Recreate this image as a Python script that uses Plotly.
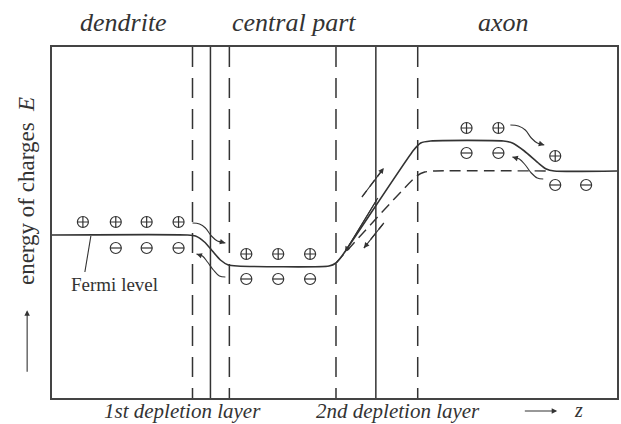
import plotly.graph_objects as go

# ---- data (z: position along neuron, E: energy of charges; arbitrary units) ----
z_range = [0, 567]
E_range = [0, 351]

boundary_solid_z = [159, 325]
boundary_dashed_z = [141, 178, 285, 367]

band_z = [0, 136, 144, 153, 161, 169, 177, 186, 278, 285, 291, 363, 370, 380,
          453, 462, 474, 488, 496, 504, 567]
band_E = [163, 163, 162, 156, 147, 138, 133, 132, 132, 135, 142, 248, 255, 257,
          257, 255, 247, 235, 229, 227, 227]

fermi_z = [285, 293, 366, 374, 383, 501]
fermi_E = [135, 144, 222, 226, 227, 227]

plus_z = [31, 64, 95, 127, 195, 227, 259, 416, 448, 505]
plus_E = [176, 176, 176, 176, 144, 144, 144, 270, 270, 242]
minus_z = [64, 95, 127, 195, 227, 259, 416, 448, 505, 536]
minus_E = [150, 150, 150, 119, 119, 119, 245, 245, 213, 213]

wavy_arrows = [
    ([141, 148, 154, 160, 166, 174], [175, 174, 170, 162, 157, 155]),
    ([174, 168, 162, 156, 151, 145], [121, 122, 128, 136, 142, 144]),
    ([460, 468, 475, 481, 487, 494], [273, 272, 268, 260, 255, 253]),
    ([493, 487, 481, 475, 469, 462], [219, 220, 225, 233, 239, 241]),
]
solid_arrow = ([327, 294], [200, 146])
dashed_arrows = [([311, 333], [201, 230]), ([333, 313], [175, 150])]

region_labels = ["dendrite", "central part", "axon"]
region_label_z = [72, 243, 453]
layer_labels = ["1st depletion layer", "2nd depletion layer"]
layer_label_z = [131, 347]

INK = "#333333"
SERIF = "Liberation Serif, Times New Roman, serif"

fig = go.Figure()

# band profile and Fermi level
fig.add_trace(go.Scatter(x=band_z, y=band_E, mode="lines",
                         line=dict(color=INK, width=1.6, shape="spline", smoothing=0.6),
                         hoverinfo="skip"))
fig.add_trace(go.Scatter(x=fermi_z, y=fermi_E, mode="lines",
                         line=dict(color=INK, width=1.4, dash="11px,6px", shape="spline", smoothing=0.6),
                         hoverinfo="skip"))

# charges
fig.add_trace(go.Scatter(x=plus_z, y=plus_E, mode="markers",
                         marker=dict(symbol="circle-cross-open", size=11, color=INK, line=dict(width=1.2)),
                         hoverinfo="skip"))
fig.add_trace(go.Scatter(x=minus_z, y=minus_E, mode="markers",
                         marker=dict(symbol="circle-open", size=11, color=INK, line=dict(width=1.2)),
                         hoverinfo="skip"))
fig.add_trace(go.Scatter(x=minus_z, y=minus_E, mode="markers",
                         marker=dict(symbol="line-ew-open", size=8, color=INK, line=dict(width=1.2)),
                         hoverinfo="skip"))

annotations = []

def head(xs, ys):
    annotations.append(dict(x=xs[-1], y=ys[-1], ax=xs[-2], ay=ys[-2], xref="x", yref="y",
                            axref="x", ayref="y", text="", showarrow=True, arrowhead=2,
                            arrowsize=1, arrowwidth=1.1, arrowcolor=INK, standoff=0))

for xs, ys in wavy_arrows:
    fig.add_trace(go.Scatter(x=xs, y=ys, mode="lines",
                             line=dict(color=INK, width=1.1, shape="spline", smoothing=1.0),
                             hoverinfo="skip"))
    head(xs, ys)

fig.add_trace(go.Scatter(x=solid_arrow[0], y=solid_arrow[1], mode="lines",
                         line=dict(color=INK, width=1.1), hoverinfo="skip"))
head(*solid_arrow)
for xs, ys in dashed_arrows:
    fig.add_trace(go.Scatter(x=xs, y=ys, mode="lines",
                             line=dict(color=INK, width=1.3, dash="8px,5px"), hoverinfo="skip"))
    head(xs, ys)

# boundaries
shapes = []
for zb in boundary_solid_z:
    shapes.append(dict(type="line", xref="x", yref="paper", x0=zb, x1=zb, y0=0, y1=1,
                       line=dict(color=INK, width=1.5)))
for zb in boundary_dashed_z:
    shapes.append(dict(type="line", xref="x", yref="paper", x0=zb, x1=zb, y0=1, y1=0,
                       line=dict(color=INK, width=1.5, dash="20px,11px")))

# Fermi level label
fig.add_trace(go.Scatter(x=[39, 33], y=[162, 126], mode="lines",
                         line=dict(color=INK, width=1.1), hoverinfo="skip"))
annotations.append(dict(x=63, y=114, xref="x", yref="y", text="Fermi level", showarrow=False,
                        yanchor="middle", font=dict(family=SERIF, size=19, color=INK)))

for lab, zz in zip(region_labels, region_label_z):
    annotations.append(dict(x=zz, y=1.0, xref="x", yref="paper", yshift=25, yanchor="middle",
                            text=f"<i>{lab}</i>", showarrow=False,
                            font=dict(family=SERIF, size=26, color=INK)))
for lab, zz in zip(layer_labels, layer_label_z):
    annotations.append(dict(x=zz, y=0, xref="x", yref="paper", yshift=-13, yanchor="middle",
                            text=f"<i>{lab}</i>", showarrow=False,
                            font=dict(family=SERIF, size=21, color=INK)))

# z axis arrow
annotations.append(dict(x=507, y=0, ax=473, ay=0, xref="x", yref="y domain", axref="x", ayref="y domain",
                        yshift=-13, text="", showarrow=True, arrowhead=2, arrowsize=1,
                        arrowwidth=1.1, arrowcolor=INK))
annotations.append(dict(x=528, y=0, xref="x", yref="paper", yshift=-12, yanchor="middle",
                        text="<i>z</i>", showarrow=False,
                        font=dict(family=SERIF, size=20, color=INK)))

# E axis label and arrow (paper coords, left of the frame)
annotations.append(dict(x=-0.044, y=0.59, xref="paper", yref="paper", xanchor="center",
                        yanchor="middle", text="energy of charges  <i>E</i>",
                        textangle=-90, showarrow=False, font=dict(family=SERIF, size=23, color=INK)))
annotations.append(dict(x=-0.044, y=0.25, ax=0, ay=63, xref="paper", yref="paper",
                        text="", showarrow=True, standoff=0,
                        arrowhead=2, arrowsize=1, arrowwidth=1.1, arrowcolor=INK))

fig.update_layout(
    width=621, height=424,
    margin=dict(l=52, r=2, t=47, b=26),
    paper_bgcolor="white", plot_bgcolor="white",
    showlegend=False,
    shapes=shapes, annotations=annotations,
    xaxis=dict(range=z_range, showgrid=False, zeroline=False, showticklabels=False, ticks="",
               showline=True, mirror=True, linecolor="#444", linewidth=1.8),
    yaxis=dict(range=E_range, showgrid=False, zeroline=False, showticklabels=False, ticks="",
               showline=True, mirror=True, linecolor="#444", linewidth=1.8),
)

fig.write_html("out.html", config={"displayModeBar": False},
               post_script="document.body.style.margin='0';document.body.style.padding='0';"
                           "document.body.style.overflow='hidden';")
